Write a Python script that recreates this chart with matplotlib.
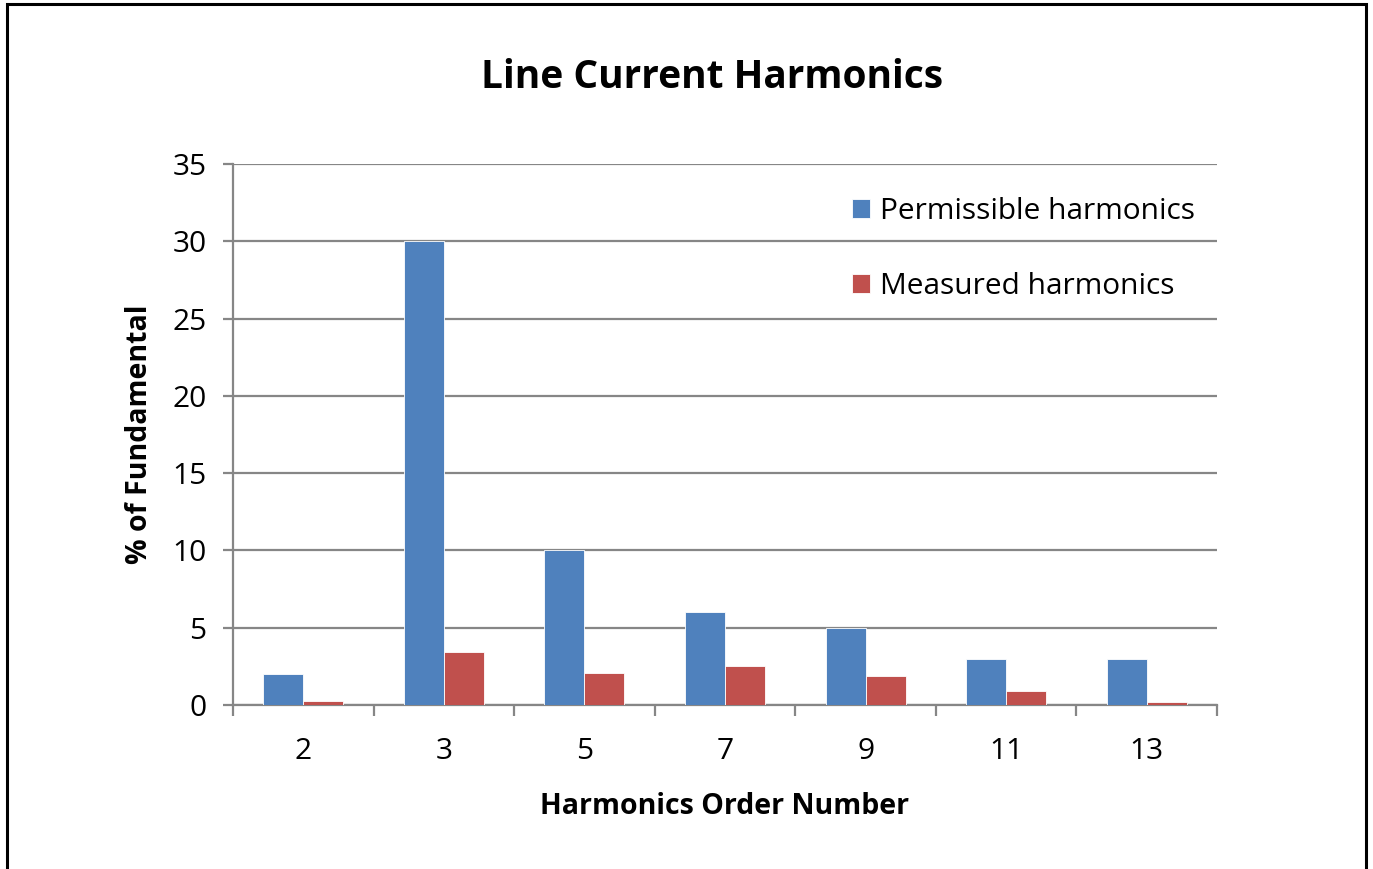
import numpy as np
import matplotlib.pyplot as plt
from matplotlib.patches import Rectangle

orders = ["2", "3", "5", "7", "9", "11", "13"]
permissible = [2, 30, 10, 6, 5, 3, 3]
measured = [0.25, 3.4, 2.1, 2.5, 1.9, 0.9, 0.2]

plt.rcParams["font.family"] = ["Open Sans", "DejaVu Sans"]

blue = "#4f81bd"
red = "#c0504d"
grid = "#868686"

fig = plt.figure(figsize=(13.73, 8.69), dpi=100)
ax = fig.add_axes([233 / 1373, 1 - 705 / 869, (1217 - 233) / 1373, (705 - 164) / 869])

x = np.arange(len(orders))
w = 0.285
ax.bar(x - w / 2, permissible, w, color=blue, edgecolor="white", linewidth=0.6,
       label="Permissible harmonics", zorder=3)
ax.bar(x + w / 2, measured, w, color=red, edgecolor="white", linewidth=0.6,
       label="Measured harmonics", zorder=3)

ax.set_xlim(-0.5, len(orders) - 0.5)
ax.set_ylim(0, 35)
ax.set_yticks(range(0, 36, 5))
ax.yaxis.grid(True, color=grid, linewidth=1.6, zorder=0)
ax.tick_params(axis="y", length=7, width=1.6, color=grid, labelsize=21.5, pad=12)

ax.set_xticks(np.arange(-0.5, len(orders), 1))
ax.set_xticklabels([])
ax.set_xticks(x, minor=True)
ax.set_xticklabels(orders, minor=True)
ax.tick_params(axis="x", which="major", length=8, width=1.6, color=grid)
ax.tick_params(axis="x", which="minor", length=0, labelsize=21.5, pad=23)

for s in ["top", "right"]:
    ax.spines[s].set_visible(False)
for s in ["left", "bottom"]:
    ax.spines[s].set_color(grid)
    ax.spines[s].set_linewidth(1.6)

ax.set_xlabel("Harmonics Order Number", fontsize=20.5, fontweight="bold", labelpad=19)
ax.set_ylabel("% of Fundamental", fontsize=20.5, fontweight="bold", labelpad=13)
fig.suptitle("Line Current Harmonics", fontsize=28, fontweight="bold", x=712 / 1373, y=1 - 77 / 869, va="center")

ax.legend(loc="upper left", bbox_to_anchor=(852 / 1373, 1 - 197 / 869), bbox_transform=fig.transFigure,
          frameon=False, fontsize=21.5, handlelength=0.6, handleheight=0.6, handletextpad=0.35,
          labelspacing=1.55, borderaxespad=0, borderpad=0)

fig.patches.append(Rectangle((7 / 1373, -0.05), (1366 - 7) / 1373, 1.05 - 4 / 869,
                             transform=fig.transFigure, fill=False, edgecolor="black", linewidth=2.2))

fig.savefig("out.png", dpi=100)
